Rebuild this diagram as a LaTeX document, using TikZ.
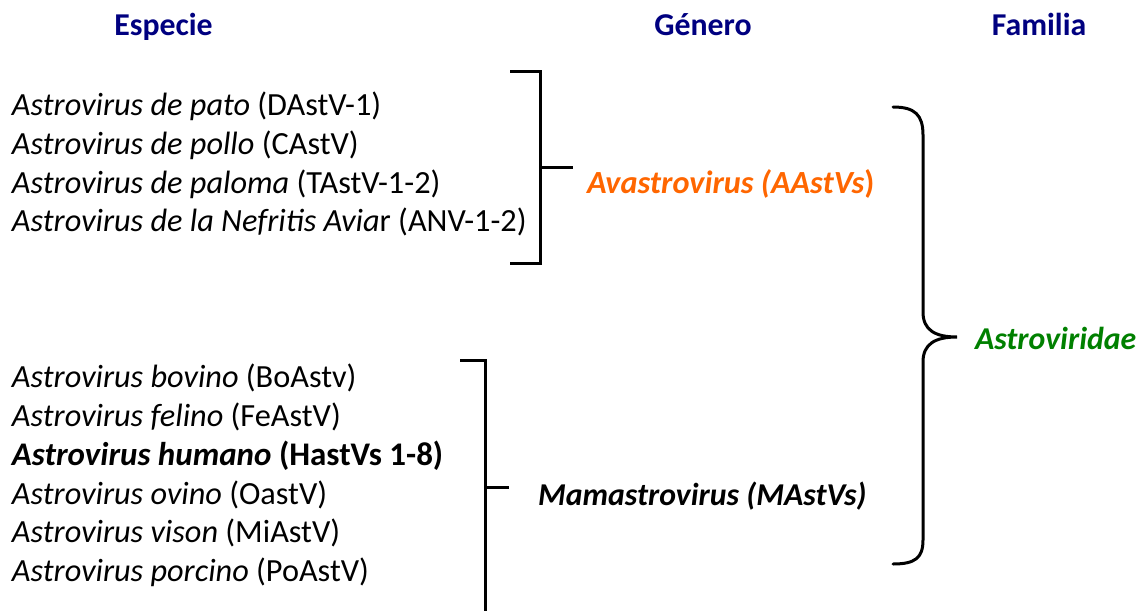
\documentclass[tikz,border=0pt]{standalone}
\usepackage{fontspec}
\setmainfont{Carlito}
\definecolor{navyhead}{RGB}{0,0,128}
\definecolor{genorange}{RGB}{255,102,0}
\definecolor{famgreen}{RGB}{0,128,0}
\begin{document}
\begin{tikzpicture}[x=1pt,y=-1pt,
  every node/.style={inner sep=0pt,outer sep=0pt},
  txt/.style={anchor=base west,font=\fontsize{32.3}{38}\selectfont},
  btxt/.style={anchor=base west,font=\fontsize{31.8}{38}\selectfont},
  head/.style={anchor=base,font=\fontsize{31.8}{38}\selectfont\bfseries,text=navyhead},
  brk/.style={line width=3pt,line cap=butt,line join=miter},
  brc/.style={line width=3pt,line cap=round}]
\useasboundingbox (0,0) rectangle (1145,610);
% headers
\node[head] (hesp) at (163.5,36) {Especie};
\node[head] (hgen) at (703,36) {Género};
\node[head] (hfam) at (1039,36) {Familia};
% avian species
\node[txt] (s1) at (12,115.7) {\textit{Astrovirus de pato} (DAstV-1)};
\node[txt] (s2) at (12,154.3) {\textit{Astrovirus de pollo} (CAstV)};
\node[txt] (s3) at (12,193.3) {\textit{Astrovirus de paloma} (TAstV-1-2)};
\node[txt] (s4) at (12,231.7) {\textit{Astrovirus de la Nefritis Avia}r (ANV-1-2)};
% mammal species
\node[txt] (m1) at (12,387.3) {\textit{Astrovirus bovino} (BoAstv)};
\node[txt] (m2) at (12,426) {\textit{Astrovirus felino} (FeAstV)};
\node[btxt,font=\fontsize{33}{38}\selectfont] (m3) at (12,465) {\textbf{\textit{Astrovirus humano} (HastVs 1-8)}};
\node[txt] (m4) at (12,504) {\textit{Astrovirus ovino} (OastV)};
\node[txt] (m5) at (12,542.7) {\textit{Astrovirus vison} (MiAstV)};
\node[txt] (m6) at (12,581.7) {\textit{Astrovirus porcino} (PoAstV)};
% genera
\node[btxt,font=\fontsize{32.3}{38}\selectfont,text=genorange] (gava) at (587,193) {\textbf{\textit{Avastrovirus (AAstVs})}};
\node[btxt] (gmam) at (538,505) {\textbf{\textit{Mamastrovirus (MAstVs)}}};
% family
\node[btxt,text=famgreen] (fam) at (975,349) {\textbf{\textit{Astroviridae}}};
% bracket for Avastrovirus
\coordinate (a1) at (510,71);
\coordinate (a2) at (540,71);
\coordinate (a3) at (540,263);
\coordinate (a4) at (510,263);
\coordinate (am) at (540,167);
\coordinate (at) at (573,167);
\draw[brk] (a1) -- (a2) -- (a3) -- (a4);
\draw[brk] (am) -- (at);
% bracket for Mamastrovirus
\coordinate (b1) at (460,360);
\coordinate (b2) at (485,360);
\coordinate (b3) at (485,612);
\coordinate (bm) at (485,487);
\coordinate (bt) at (509,487);
\draw[brk] (b1) -- (b2) -- (b3);
\draw[brk] (bm) -- (bt);
% curly brace for family
\coordinate (c1) at (893,107);
\coordinate (ctip) at (957,337);
\coordinate (c2) at (893,564);
\draw[brc] (c1) .. controls (915,107) and (923,115) .. (923,135)
  -- (923,312) .. controls (923,330) and (935,337) .. (ctip)
  .. controls (935,337) and (923,344) .. (923,362)
  -- (923,540) .. controls (923,558) and (915,564) .. (c2);
\end{tikzpicture}
\end{document}
